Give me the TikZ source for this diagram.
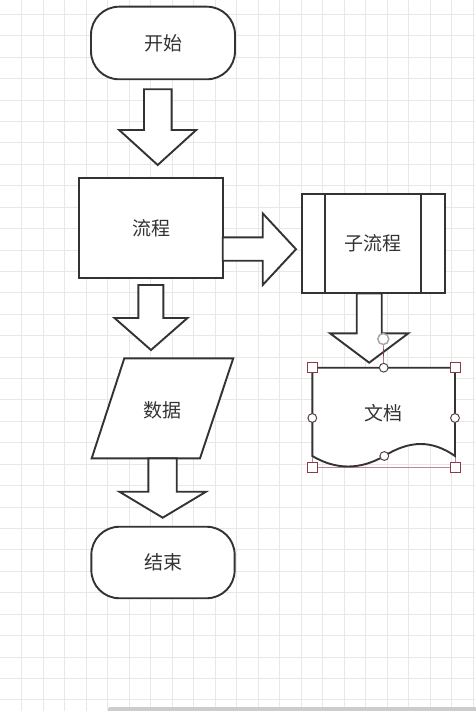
\documentclass[tikz,border=0pt]{standalone}
\usepackage{fontspec}
\newfontfamily\cjk{Noto Sans CJK SC}
\usetikzlibrary{calc}
\definecolor{ink}{HTML}{333333}
\definecolor{gridc}{HTML}{E8E8E8}
\definecolor{hred}{HTML}{8A3A48}
\definecolor{hdark}{HTML}{5A4040}
\tikzset{
  ln/.style={draw=ink, line width=1.9pt, line join=miter},
  box/.style={ln, fill=white, text=ink, font=\cjk\fontsize{19}{22}\selectfont, inner sep=0pt},
  txt/.style={text=ink, font=\cjk\fontsize{19}{22}\selectfont, inner sep=0pt},
  blk/.style={ln, fill=white},
  sq/.style={rectangle, draw=hred, fill=white, line width=1pt, minimum size=10pt, inner sep=0pt},
  hc/.style={circle, draw=hdark, fill=white, line width=1pt, minimum size=8.8pt, inner sep=0pt}
}
% #1 start, #2 tip, #3 shaft half width, #4 head half width, #5 head length
\newcommand\blkdown[5]{%
  \draw[blk] let \p1=(#1), \p2=(#2) in
    (\x1-#3,\y1) -- (\x1+#3,\y1) -- (\x1+#3,\y2+#5) -- (\x2+#4,\y2+#5) -- (\x2,\y2)
    -- (\x2-#4,\y2+#5) -- (\x1-#3,\y2+#5) -- cycle;}
\newcommand\blkright[5]{%
  \draw[blk] let \p1=(#1), \p2=(#2) in
    (\x1,\y1+#3) -- (\x2-#5,\y1+#3) -- (\x2-#5,\y2+#4) -- (\x2,\y2)
    -- (\x2-#5,\y2-#4) -- (\x2-#5,\y1-#3) -- (\x1,\y1-#3) -- cycle;}
\begin{document}
\begin{tikzpicture}[x=1pt,y=-1pt]
\useasboundingbox (0,0) rectangle (475,711);
\fill[white] (0,0) rectangle (475,711);
% grid
\foreach \i in {1,...,22} \draw[gridc, line width=0.8pt] (21.5*\i,0) -- (21.5*\i,711);
\foreach \j in {0,...,32} \draw[gridc, line width=0.8pt] (0,14.3+21.42*\j) -- (475,14.3+21.42*\j);
% bottom bar
\fill[gray!40, rounded corners=2pt] (108,707) rectangle (477,713);

% nodes
\node[box, rounded corners=28pt, minimum width=144pt, minimum height=72.6pt] (start) at (163,43) {开始};
\node[box, minimum width=143.4pt, minimum height=100pt] (proc) at (151,228.3) {流程};
\node[box, minimum width=143.3pt, minimum height=99.3pt] (sub) at (373.3,243.7) {子流程};
\draw[ln] ($(sub.north west)+(24,0)$) -- ($(sub.south west)+(24,0)$);
\draw[ln] ($(sub.north east)+(-25,0)$) -- ($(sub.south east)+(-25,0)$);
\draw[ln, fill=white] (124.3,358.3) -- (233.3,358.3) -- (200,458.3) -- (91.7,458.3) -- cycle;
\node[txt] (data) at (162.3,410) {数据};
\node[box, rounded corners=28pt, minimum width=143.3pt, minimum height=71.5pt] (end) at (163,562.5) {结束};

% arrow anchors
\coordinate (a1s) at (157.8,89.3);  \coordinate (a1t) at (157.7,165);
\coordinate (a2s) at (150.8,285);   \coordinate (a2t) at (151,350);
\coordinate (a3s) at (162.5,458.3); \coordinate (a3t) at (162.7,517.7);
\coordinate (a4s) at (369.2,293.3); \coordinate (a4t) at (369.2,362.7);
\coordinate (ars) at (222.7,249);   \coordinate (art) at (296,249.2);
\blkdown{a1s}{a1t}{13.85pt}{38.5pt}{35pt}
\blkdown{a2s}{a2t}{12.5pt}{36.5pt}{32pt}
\blkdown{a3s}{a3t}{14.2pt}{43.3pt}{26pt}
\blkdown{a4s}{a4t}{12.5pt}{39.2pt}{29.4pt}
\blkright{ars}{art}{11.7pt}{35.8pt}{33.3pt}

% document shape with selection
\draw[hred!60, line width=0.6pt] (312.3,367.7) rectangle (455,467);
\draw[ln, fill=white] (312.3,367.7) -- (455,367.7) -- (455,456)
  .. controls (432,440) and (410,440) .. (384.3,456)
  .. controls (360,470) and (336,470) .. (312.3,456) -- cycle;
\node[txt] (doc) at (383.5,413) {文档};

\node[circle, draw=gray!70, line width=1.5pt, fill=white, minimum size=11pt, inner sep=0pt] (rot) at (383.3,339) {};
\node[hc] (hn) at (383.7,367.7) {};
\draw[hred, line width=0.6pt] (rot) -- (hn);
\node[hc] (hw) at (312.3,418) {};
\node[hc] (he) at (455,418) {};
\node[hc] (hs) at (384.3,456) {};
\node[sq] (hnw) at (312.3,367.7) {};
\node[sq] (hne) at (455,367.7) {};
\node[sq] (hsw) at (312.3,467) {};
\node[sq] (hse) at (455,467) {};
\end{tikzpicture}
\end{document}
